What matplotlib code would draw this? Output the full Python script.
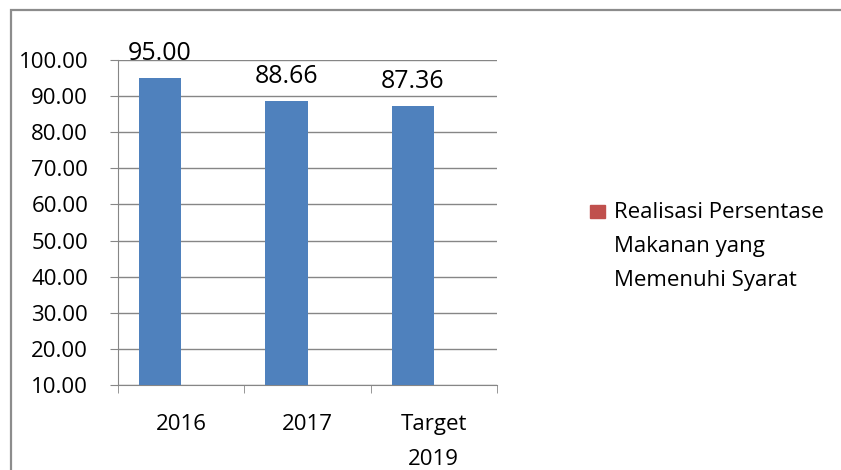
import matplotlib.pyplot as plt
from matplotlib.patches import Rectangle

categories = ['2016', '2017', 'Target\n2019']
values = [95.00, 88.66, 87.36]
legend_label = 'Realisasi Persentase\nMakanan yang\nMemenuhi Syarat'
y_ticks = [10, 20, 30, 40, 50, 60, 70, 80, 90, 100]

plt.rcParams['font.family'] = ['Open Sans', 'DejaVu Sans']
grey = '#868686'

fig = plt.figure(figsize=(8.41, 4.70), dpi=100)
# chart border (runs off the right and bottom edges)
fig.patches.append(Rectangle((10.5 / 841, -0.1), 1.0, 1.1 - 10.5 / 470,
                             transform=fig.transFigure, fill=False,
                             edgecolor='#8c8c8c', linewidth=1.6))

ax = fig.add_axes([118 / 841, 85 / 470, 379 / 841, 325 / 470])
x = list(range(len(categories)))
# blue series sits left of centre, the (empty) red series would sit right
bw = 1 / 3.0
xb = [xi - bw / 2 for xi in x]
ax.bar(xb, [v - 10 for v in values], bottom=10, width=bw,
       color='#4F81BD', zorder=3)

for xi, v in zip(xb, values):
    ax.annotate('%.2f' % v, (xi, v), xytext=(0, 13), textcoords='offset points',
                ha='center', va='baseline', fontsize=18, annotation_clip=False)

ax.set_ylim(10, 100)
ax.set_yticks(y_ticks)
ax.set_yticklabels(['%.2f' % t for t in y_ticks], fontsize=16)
ax.set_xlim(-0.5, 2.5)
ax.set_xticks(x)
ax.set_xticklabels(categories, fontsize=16, linespacing=1.85)
ax.tick_params(axis='x', length=0, pad=21)
ax.tick_params(axis='y', length=5.5, color=grey, pad=16)
ax.set_xticks([-0.5, 0.5, 1.5, 2.5], minor=True)
ax.tick_params(axis='x', which='minor', length=5.5, color=grey)

ax.grid(axis='y', color=grey, linewidth=1.0, zorder=0)
for s in ['top', 'right']:
    ax.spines[s].set_visible(False)
ax.spines['left'].set_color(grey)
ax.spines['bottom'].set_color(grey)

# legend: red swatch top-aligned with the first line of text
fig.patches.append(Rectangle((590 / 841, 1 - 218 / 470), 15 / 841, 13 / 470,
                             transform=fig.transFigure, color='#C0504D'))
fig.text(614 / 841, 1 - 202 / 470, legend_label, fontsize=16,
         ha='left', va='top', linespacing=1.8)

fig.savefig('out.png', dpi=100)
